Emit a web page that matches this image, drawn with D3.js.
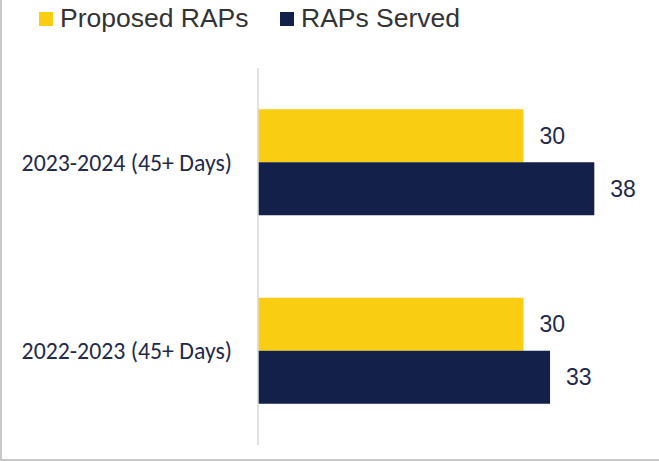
<!DOCTYPE html>
<html>
<head>
<meta charset="utf-8">
<script src="https://cdn.jsdelivr.net/npm/d3@7"></script>
<style>
  body { margin: 0; background: #fff; }
  svg { display: block; }
</style>
</head>
<body>
<svg id="chart"></svg>
<script>
const categories = ["2023-2024 (45+ Days)", "2022-2023 (45+ Days)"]
const seriesNames = ["Proposed RAPs", "RAPs Served"]
const proposed = [30, 30]
const served = [38, 33]
const colors = ["#F9CD12", "#13214A"]

const width = 659
const height = 461
const svg = d3.select("#chart")
  .attr("width", width)
  .attr("height", height)

// frame edges
svg.append("line").attr("x1", 1).attr("x2", 1).attr("y1", 0).attr("y2", height)
  .attr("stroke", "#c8c8c8").attr("stroke-width", 2)
svg.append("line").attr("x1", 0).attr("x2", width).attr("y1", 460).attr("y2", 460)
  .attr("stroke", "#c8c8c8").attr("stroke-width", 2)

const x = d3.scaleLinear().domain([0, 10]).range([258, 346.5])
const y = d3.scaleBand().domain(categories).range([68, 445])

const groupH = 106
const sub = d3.scaleBand().domain(seriesNames).range([0, groupH])

const rows = categories.map((c, i) => ({ cat: c, vals: [proposed[i], served[i]] }))

const g = svg.append("g")
  .selectAll("g")
  .data(rows)
  .enter().append("g")
  .attr("transform", d => `translate(0,${y(d.cat) + (y.bandwidth() - groupH) / 2})`)

g.selectAll("rect")
  .data(d => d.vals.map((v, k) => ({ v, k })))
  .enter().append("rect")
  .attr("x", x(0))
  .attr("y", d => sub(seriesNames[d.k]))
  .attr("width", d => x(d.v) - x(0))
  .attr("height", sub.bandwidth())
  .attr("fill", d => colors[d.k])

g.selectAll("text.val")
  .data(d => d.vals.map((v, k) => ({ v, k })))
  .enter().append("text")
  .attr("class", "val")
  .attr("x", d => x(d.v) + 16)
  .attr("y", d => sub(seriesNames[d.k]) + sub.bandwidth() / 2)
  .attr("dy", "0.35em")
  .attr("font-family", "Liberation Sans, Arial, sans-serif")
  .attr("font-size", 23)
  .attr("fill", "#1F2A4A")
  .text(d => d.v)

g.append("text")
  .attr("x", 232)
  .attr("y", groupH / 2)
  .attr("dy", "0.35em")
  .attr("text-anchor", "end")
  .attr("font-family", "Carlito, Lato, sans-serif")
  .attr("font-size", 23.8)
  .attr("fill", "#1F2A4A")
  .text(d => d.cat)

// axis line
svg.append("line")
  .attr("x1", x(0)).attr("x2", x(0))
  .attr("y1", 68).attr("y2", 445)
  .attr("stroke", "#d9d9d9").attr("stroke-width", 1.5)

// legend
const legendX = [39, 280]
const legend = svg.append("g")
  .selectAll("g")
  .data(seriesNames)
  .enter().append("g")
  .attr("transform", (d, i) => `translate(${legendX[i]},12)`)
legend.append("rect")
  .attr("width", 14).attr("height", 14)
  .attr("fill", (d, i) => colors[i])
legend.append("text")
  .attr("x", 21).attr("y", 15)
  .attr("font-family", "Liberation Sans, Arial, sans-serif")
  .attr("font-size", 26.5)
  .attr("fill", "#333")
  .text(d => d)
</script>
</body>
</html>
